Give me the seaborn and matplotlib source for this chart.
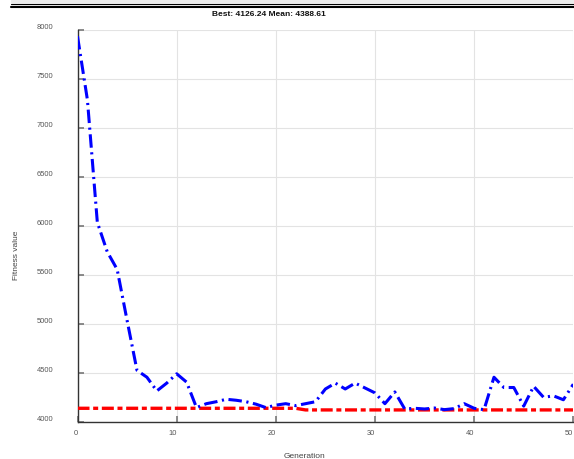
import matplotlib
matplotlib.use("Agg")
import matplotlib.pyplot as plt
from matplotlib.lines import Line2D
from matplotlib.patches import Rectangle
import seaborn as sns
import pandas as pd

# Genetic algorithm progress per generation
generations = list(range(51))
mean_fitness = [
    7940, 7290, 6040, 5740, 5560, 5040, 4530, 4460, 4320, 4400,
    4495, 4410, 4150, 4190, 4210, 4235, 4225, 4210, 4185, 4150,
    4175, 4190, 4170, 4190, 4210, 4340, 4400, 4340, 4400, 4350,
    4300, 4190, 4310, 4136, 4143, 4136, 4146, 4129, 4140, 4190,
    4143, 4129, 4460, 4355, 4355, 4165, 4367, 4255, 4270, 4230,
    4388.61,
]
best_fitness = [4143] * 23 + [4126.24] * 28

title_text = "Best: 4126.24 Mean: 4388.61"
x_label = "Generation"
y_label = "Fitness value"
x_ticks = [0, 10, 20, 30, 40, 50]
y_ticks = [4000, 4500, 5000, 5500, 6000, 6500, 7000, 7500, 8000]

df = pd.DataFrame({"gen": generations, "mean": mean_fitness, "best": best_fitness})

sns.set_theme(style="whitegrid")
plt.rcParams["font.family"] = ["Liberation Sans", "DejaVu Sans"]

W, H = 574, 460
fig = plt.figure(figsize=(W / 100, H / 100), dpi=100)
ax = fig.add_axes([77.5 / W, 1 - 423.3 / H, (573.3 - 77.5) / W, (423.3 - 31.3) / H])
ax.set_facecolor("white")

sns.lineplot(data=df, x="gen", y="best", ax=ax, color="#ff0000", linewidth=2.4,
             linestyle=(0, (3.6, 1.1, 1.5, 1.1)), zorder=3)
sns.lineplot(data=df, x="gen", y="mean", ax=ax, color="#0000ff", linewidth=2.2,
             linestyle=(0, (4.4, 1.5, 0.7, 1.5)), zorder=4)

ax.set_xlim(0, 50)
ax.set_ylim(4000, 8000)
ax.set_xticks(x_ticks)
ax.set_yticks(y_ticks)
ax.set_xlabel("")
ax.set_ylabel("")

ax.grid(True, color="#e3e3e3", linewidth=0.8)
for side in ("top", "right"):
    ax.spines[side].set_visible(False)
for side in ("left", "bottom"):
    ax.spines[side].set_visible(True)
    ax.spines[side].set_color("#333333")
    ax.spines[side].set_linewidth(1.0)

ax.tick_params(axis="both", direction="in", length=4, width=1.2, color="#777777",
               labelsize=5.4, labelcolor="#555555")
ax.tick_params(axis="y", pad=17.5, left=True)
ax.tick_params(axis="x", pad=5, bottom=True)
for lab in ax.get_xticklabels():
    lab.set_horizontalalignment("right")
for lab in ax.get_yticklabels():
    lab.set_verticalalignment("bottom")

fig.text(269 / W, 1 - 14 / H, title_text, ha="center", va="center",
         fontsize=6, fontweight="bold", color="#111111")
fig.text(304 / W, 1 - 457 / H, x_label, ha="center", va="center",
         fontsize=6, color="#444444")
fig.text(17 / W, 1 - 255 / H, y_label, ha="center", va="center",
         rotation=90, fontsize=6, color="#444444")

# header band with double rule
fig.patches.append(Rectangle((11 / W, 1 - 4 / H), 1, 4 / H, transform=fig.transFigure,
                             facecolor="#ececec", edgecolor="none", zorder=1))
fig.lines.append(Line2D([11 / W, 1], [1 - 4.5 / H] * 2, transform=fig.transFigure,
                        color="black", linewidth=0.85, zorder=2))
fig.lines.append(Line2D([11 / W, 1], [1 - 7.8 / H] * 2, transform=fig.transFigure,
                        color="black", linewidth=1.5, zorder=2))

fig.savefig("out.png", dpi=100, facecolor="white")
